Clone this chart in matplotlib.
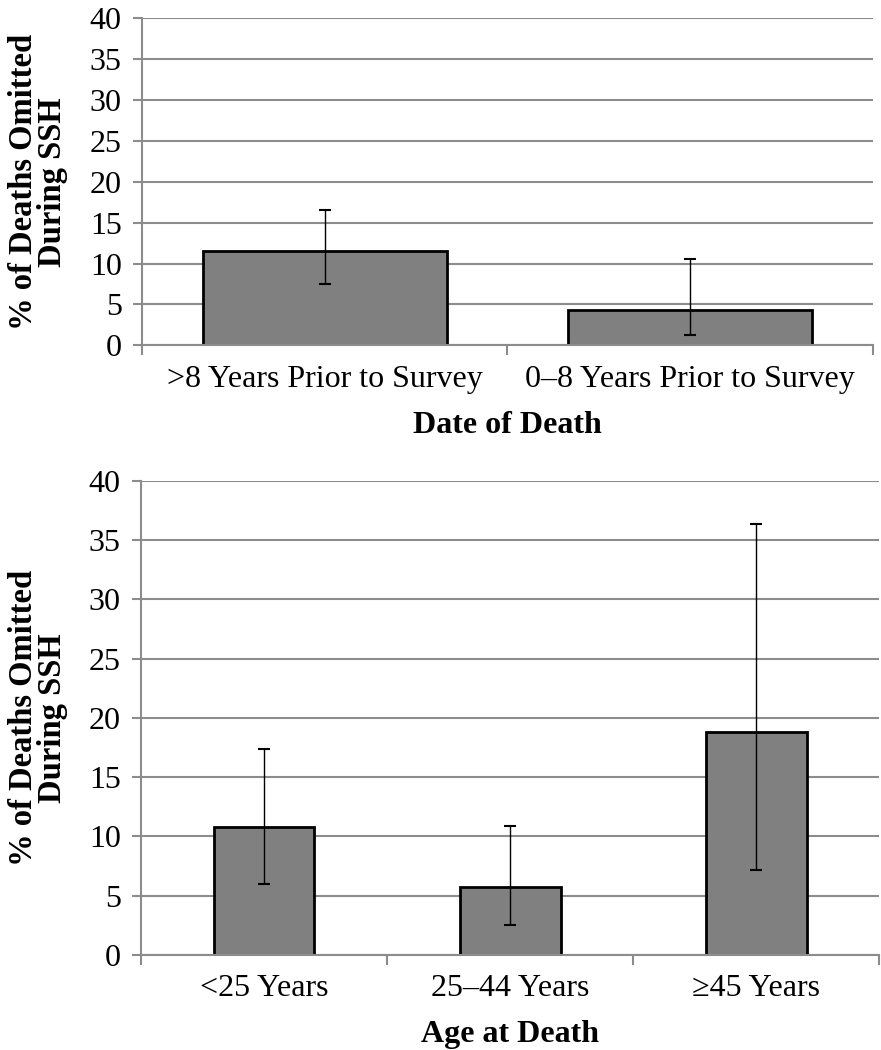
import matplotlib
matplotlib.use("Agg")
import matplotlib.pyplot as plt
import numpy as np

plt.rcParams["font.family"] = ["Liberation Serif", "DejaVu Serif"]

# panel A: date of death
date_labels = [">8 Years Prior to Survey", "0\u20138 Years Prior to Survey"]
date_vals = [11.5, 4.3]
date_lo = [7.5, 1.3]
date_hi = [16.5, 10.6]

# panel B: age at death
age_labels = ["<25 Years", "25\u201344 Years", "\u226545 Years"]
age_vals = [10.8, 5.7, 18.8]
age_lo = [6.0, 2.5, 7.2]
age_hi = [17.4, 10.9, 36.4]

YLABEL = "% of Deaths Omitted\nDuring SSH"
GRID = "#8c8c8c"
FS = 23


def panel(ax, labels, vals, lo, hi, width, xlabel):
    n = len(vals)
    x = np.arange(n)
    vals = np.array(vals)
    yerr = [vals - np.array(lo), np.array(hi) - vals]
    ax.set_axisbelow(True)
    ax.yaxis.grid(True, color=GRID, linewidth=1.5)
    ax.bar(x, vals, width=width, color="#808080", edgecolor="black",
           linewidth=2.0, zorder=2)
    ax.errorbar(x, vals, yerr=yerr, fmt="none", ecolor="black",
                elinewidth=1.0, capsize=4.5, capthick=1.5, zorder=3)
    ax.set_xlim(-0.5, n - 0.5)
    ax.set_ylim(0, 40)
    ax.set_yticks(range(0, 41, 5))
    ax.set_xticks(x)
    ax.set_xticklabels(labels, fontsize=FS)
    ax.set_xticks(np.arange(n + 1) - 0.5, minor=True)
    ax.tick_params(axis="x", which="major", length=0, pad=14)
    ax.tick_params(axis="x", which="minor", length=7, width=1.5, color=GRID)
    ax.tick_params(axis="y", length=6.5, width=1.5, color=GRID, labelsize=FS, pad=8)
    for s in ("top", "right"):
        ax.spines[s].set_visible(False)
    for s in ("left", "bottom"):
        ax.spines[s].set_color(GRID)
        ax.spines[s].set_linewidth(1.5)
    ax.set_xlabel(xlabel, fontsize=FS, fontweight="bold", labelpad=12)


fig = plt.figure(figsize=(8.81, 10.5), dpi=100)
ax1 = fig.add_axes([0.161, 0.671, 0.830, 0.312])
ax2 = fig.add_axes([0.160, 0.0905, 0.838, 0.4515])

panel(ax1, date_labels, date_vals, date_lo, date_hi, 0.667, "Date of Death")
panel(ax2, age_labels, age_vals, age_lo, age_hi, 0.41, "Age at Death")

fig.text(38 / 881, 1 - 182 / 1050, YLABEL, rotation=90, ha="center", va="center",
         fontsize=23.5, fontweight="bold", linespacing=0.95, multialignment="center")
fig.text(38 / 881, 1 - 718 / 1050, YLABEL, rotation=90, ha="center", va="center",
         fontsize=23.5, fontweight="bold", linespacing=0.95, multialignment="center")

fig.savefig("out.png", dpi=100)
